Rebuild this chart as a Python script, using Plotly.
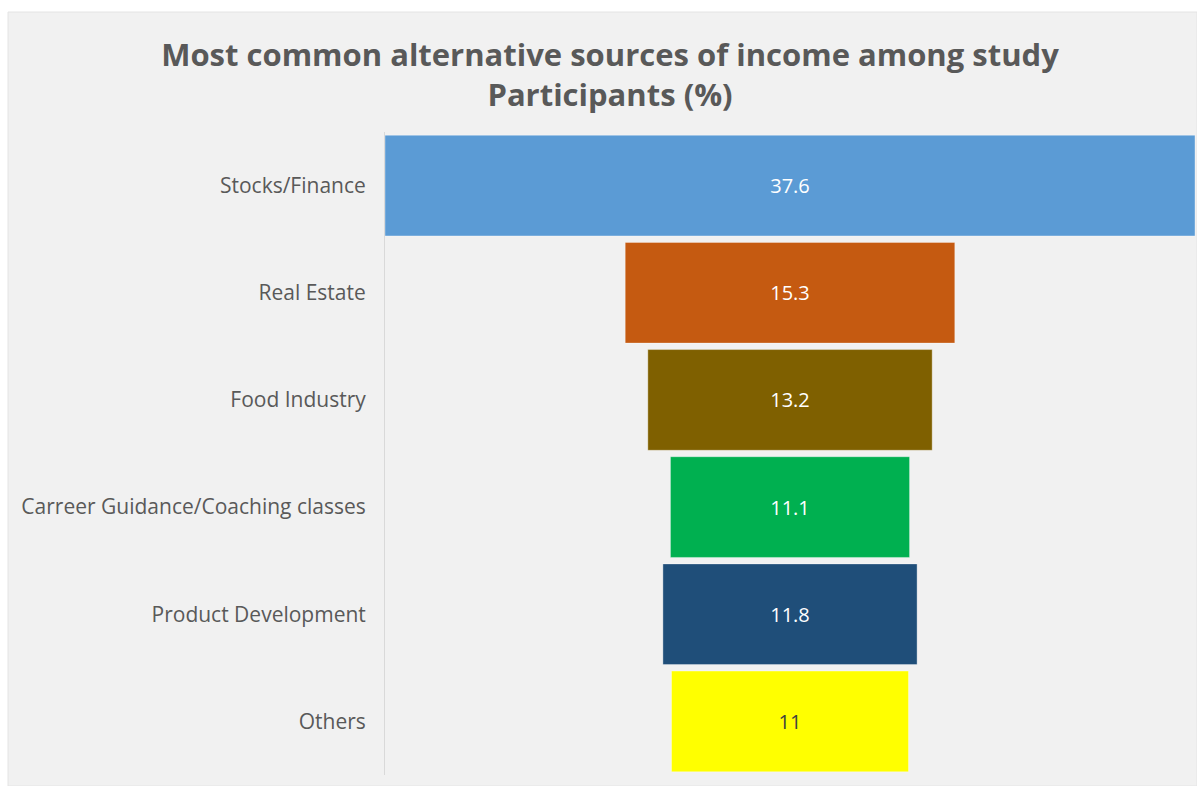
import plotly.graph_objects as go

categories = ["Stocks/Finance", "Real Estate", "Food Industry",
              "Carreer Guidance/Coaching classes", "Product Development", "Others"]
values = [37.6, 15.3, 13.2, 11.1, 11.8, 11]
colors = ["#5b9bd5", "#c55a11", "#7f6000", "#00b050", "#1f4e79", "#ffff00"]
label_colors = ["#ffffff", "#ffffff", "#ffffff", "#ffffff", "#ffffff", "#404040"]

W, H = 1197, 786
L, R, T, B = 385, 2, 132, 11
pw, ph = W - L - R, H - T - B

fig = go.Figure(go.Funnel(
    y=categories,
    x=values,
    textinfo="value",
    textposition="inside",
    insidetextanchor="middle",
    textfont=dict(family="Open Sans", size=20, color=label_colors),
    marker=dict(color=colors, line=dict(width=1, color="rgba(255,255,255,0.35)")),
    connector=dict(visible=False),
    hoverinfo="y+x",
))

fig.update_layout(
    width=W, height=H,
    margin=dict(l=L, r=R, t=T, b=B),
    paper_bgcolor="#ffffff",
    plot_bgcolor="rgba(0,0,0,0)",
    funnelgap=0.06,
    showlegend=False,
    title=dict(
        text="<b>Most common alternative sources of income among study<br>Participants (%)</b>",
        x=610 / W, xref="container", xanchor="center",
        y=1 - 66 / H, yref="container", yanchor="middle",
        font=dict(family="Open Sans", size=31, color="#595959"),
    ),
    xaxis=dict(visible=False, range=[-max(values) / 2, max(values) / 2], fixedrange=True),
    yaxis=dict(
        showline=True, linecolor="#d9d9d9", linewidth=1,
        ticks="", ticklabelstandoff=14,
        tickfont=dict(family="Open Sans", size=21, color="#595959"),
        showgrid=False,
    ),
    shapes=[dict(
        type="rect", xref="paper", yref="paper", layer="below",
        x0=(8 - L) / pw, x1=(W - L) / pw,
        y0=(T + ph - H) / ph, y1=(T + ph - 12) / ph,
        fillcolor="#f1f1f1", line=dict(width=1, color="#e4e4e4"),
    )],
)

fig.write_html("out.html")
